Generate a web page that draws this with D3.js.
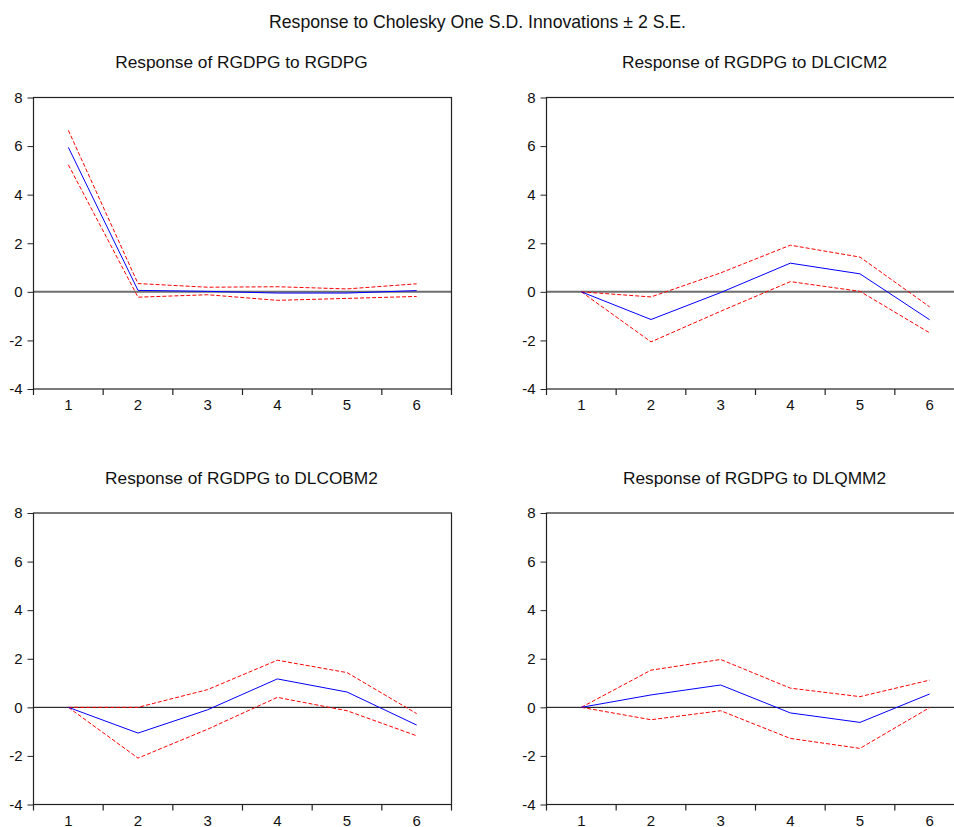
<!DOCTYPE html>
<html>
<head>
<meta charset="utf-8">
<script src="https://cdn.jsdelivr.net/npm/d3@7"></script>
<style>
  body { margin: 0; background: #fff; }
  svg { display: block; font-family: "Liberation Sans", Arial, sans-serif; }
</style>
</head>
<body>
<svg id="canvas" width="954" height="827"></svg>
<script>
// periods on the x axis
let steps = [1, 2, 3, 4, 5, 6]
let yTicks = [-4, -2, 0, 2, 4, 6, 8]

let mainTitle = 'Response to Cholesky One S.D. Innovations \u00b1 2 S.E.'
let panelTitles = [
  'Response of RGDPG to RGDPG',
  'Response of RGDPG to DLCICM2',
  'Response of RGDPG to DLCOBM2',
  'Response of RGDPG to DLQMM2'
]

// response, upper band, lower band
let rgdpgResp  = [5.95, 0.06, 0.02, -0.05, -0.05, 0.05]
let rgdpgUpper = [6.65, 0.34, 0.19, 0.21, 0.12, 0.33]
let rgdpgLower = [5.23, -0.22, -0.12, -0.35, -0.27, -0.19]

let dlcicmResp  = [0, -1.14, -0.03, 1.18, 0.74, -1.15]
let dlcicmUpper = [0, -0.21, 0.78, 1.92, 1.43, -0.62]
let dlcicmLower = [0, -2.06, -0.8, 0.42, 0.02, -1.69]

let dlcobmResp  = [0, -1.06, -0.1, 1.17, 0.63, -0.73]
let dlcobmUpper = [0, 0, 0.73, 1.94, 1.43, -0.26]
let dlcobmLower = [0, -2.09, -0.9, 0.41, -0.14, -1.17]

let dlqmmResp  = [0, 0.51, 0.92, -0.23, -0.62, 0.55]
let dlqmmUpper = [0, 1.53, 1.97, 0.79, 0.44, 1.12]
let dlqmmLower = [0, -0.51, -0.14, -1.28, -1.69, -0.01]

let panels = [
  { title: panelTitles[0], resp: rgdpgResp,  upper: rgdpgUpper,  lower: rgdpgLower },
  { title: panelTitles[1], resp: dlcicmResp, upper: dlcicmUpper, lower: dlcicmLower },
  { title: panelTitles[2], resp: dlcobmResp, upper: dlcobmUpper, lower: dlcobmLower },
  { title: panelTitles[3], resp: dlqmmResp,  upper: dlqmmUpper,  lower: dlqmmLower }
]

let canvas = d3.select('#canvas')

let plotW = 418
let plotH = 291.5
let lefts = [33.5, 546.5]
let tops = [97.5, 513]

canvas.append('text')
  .attr('x', 477.5)
  .attr('y', 28)
  .attr('text-anchor', 'middle')
  .attr('font-size', 19)
  .attr('textLength', 417)
  .attr('lengthAdjust', 'spacingAndGlyphs')
  .attr('fill', '#111')
  .text(mainTitle)

let x = d3.scaleBand().domain(steps).range([0, plotW])
let y = d3.scaleLinear().domain([-4, 8]).range([plotH, 0])

let line = d3.line()
  .x((d, i) => x(steps[i]) + x.bandwidth() / 2)
  .y(d => y(d))

panels.forEach((p, k) => {
  let row = Math.floor(k / 2)
  let col = k % 2
  let g = canvas.append('g')
    .attr('transform', 'translate(' + lefts[col] + ',' + tops[row] + ')')

  g.append('text')
    .attr('x', plotW / 2 - 1)
    .attr('y', -29.5)
    .attr('text-anchor', 'middle')
    .attr('font-size', 17.3)
    .attr('fill', '#111')
    .text(p.title)

  // zero line
  g.append('line')
    .attr('x1', 0).attr('x2', plotW)
    .attr('y1', y(0)).attr('y2', y(0))
    .attr('stroke', row === 0 ? '#6e6e6e' : '#000')
    .attr('stroke-width', row === 0 ? 2 : 1)

  g.append('path')
    .datum(p.upper)
    .attr('d', line)
    .attr('fill', 'none')
    .attr('stroke', '#ff0000')
    .attr('stroke-width', 1)
    .attr('stroke-dasharray', '4,2')

  g.append('path')
    .datum(p.lower)
    .attr('d', line)
    .attr('fill', 'none')
    .attr('stroke', '#ff0000')
    .attr('stroke-width', 1)
    .attr('stroke-dasharray', '4,2')

  g.append('path')
    .datum(p.resp)
    .attr('d', line)
    .attr('fill', 'none')
    .attr('stroke', '#0000ff')
    .attr('stroke-width', 1)

  // frame
  g.append('rect')
    .attr('x', 0).attr('y', 0)
    .attr('width', plotW).attr('height', plotH)
    .attr('fill', 'none')
    .attr('stroke', '#222')
    .attr('stroke-width', 1.2)

  let yAxis = g.append('g')
    .call(d3.axisLeft(y).tickValues(yTicks).tickSize(6).tickPadding(5).tickFormat(d => String(d)))
  yAxis.select('.domain').remove()
  yAxis.selectAll('text').attr('font-size', 15).attr('font-family', 'Liberation Sans, Arial').attr('fill', '#111')
  yAxis.selectAll('line').attr('stroke', '#222')

  // x ticks sit on the band edges, labels in the middle
  let edges = steps.map(s => x(s)).concat([plotW])
  g.selectAll('.xtick')
    .data(edges)
    .enter()
    .append('line')
    .attr('class', 'xtick')
    .attr('x1', d => d).attr('x2', d => d)
    .attr('y1', plotH).attr('y2', plotH + 6)
    .attr('stroke', '#222')
    .attr('stroke-width', 1.2)

  g.selectAll('.xlabel')
    .data(steps)
    .enter()
    .append('text')
    .attr('class', 'xlabel')
    .attr('x', d => x(d) + x.bandwidth() / 2)
    .attr('y', plotH + 21)
    .attr('text-anchor', 'middle')
    .attr('font-size', 15)
    .attr('fill', '#111')
    .text(d => d)
})
</script>
</body>
</html>
